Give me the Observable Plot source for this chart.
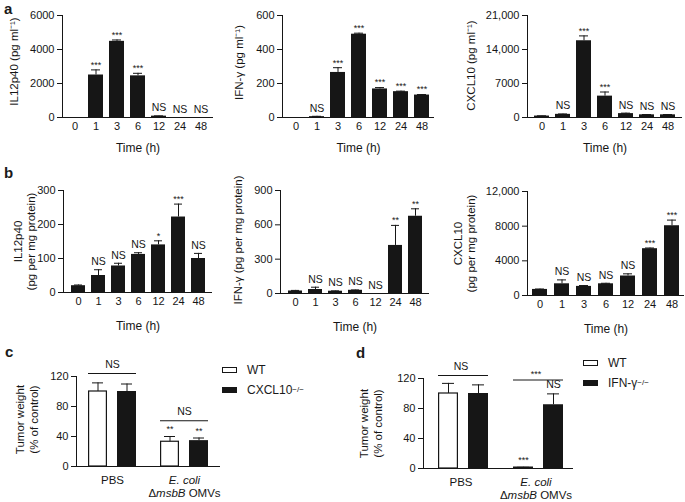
<!DOCTYPE html>
<html><head><meta charset="utf-8">
<script src="https://cdn.jsdelivr.net/npm/d3@7"></script>
<script src="https://cdn.jsdelivr.net/npm/@observablehq/plot@0.6"></script>
<style>
body{margin:0;background:#fff;font-family:"Liberation Sans",Arial,Helvetica,sans-serif;color:#1a1a1a;}
#wrap{position:relative;width:685px;height:502px;overflow:hidden;background:#fff;}
.letter{position:absolute;font-weight:bold;font-size:15px;line-height:15px;}
.legend{position:absolute;font-size:12px;line-height:20px;}
.legend .row{display:flex;align-items:center;height:20px;}
.legend .sw{display:inline-block;width:15px;height:6px;box-sizing:border-box;margin-right:10px;}
.legend sup{font-size:8px;vertical-align:5px;}
</style></head><body><div id="wrap"></div>
<script>
const FONT = '"Liberation Sans", Arial, Helvetica, sans-serif';
const INK = "#161616";

// ---------- data ----------
const times = ["0","1","3","6","12","24","48"];

// a: serum (pg/ml)
const il12Serum     = [0, 2500, 4480, 2450, 80, 0, 0];
const il12SerumErr  = [0, 300, 80, 150, 15, 0, 0];
const il12SerumSig  = ["", "***", "***", "***", "NS", "NS", "NS"];

const ifnSerum      = [0, 5, 265, 490, 168, 152, 132];
const ifnSerumErr   = [0, 2, 28, 6, 8, 3, 3];
const ifnSerumSig   = ["", "NS", "***", "***", "***", "***", "***"];

const cxclSerum     = [300, 650, 15800, 4400, 800, 550, 550];
const cxclSerumErr  = [50, 80, 1000, 850, 100, 60, 60];
const cxclSerumSig  = ["", "NS", "***", "***", "NS", "NS", "NS"];

// b: tumor tissue (pg per mg protein)
const il12Tissue    = [20, 50, 78, 112, 140, 222, 100];
const il12TissueErr = [2, 17, 8, 5, 12, 38, 15];
const il12TissueSig = ["", "NS", "NS", "NS", "*", "***", "NS"];

const ifnTissue     = [22, 35, 20, 28, 0, 420, 675];
const ifnTissueErr  = [5, 20, 3, 3, 0, 175, 65];
const ifnTissueSig  = ["", "NS", "NS", "NS", "NS", "**", "**"];

const cxclTissue    = [700, 1350, 1050, 1350, 2250, 5400, 8050];
const cxclTissueErr = [50, 450, 100, 60, 250, 80, 650];
const cxclTissueSig = ["", "NS", "NS", "NS", "NS", "***", "***"];

// c, d: tumor weight (% of control)
const groups = ["PBS", "Ecoli"];
const groupLabels = ["PBS", "E. coli\nΔmsbB OMVs"];

const cWT = [100, 33], cWTErr = [11.5, 7], cWTSig = ["", "**"];
const cKO = [100, 34.5], cKOErr = [10, 3.5], cKOSig = ["", "**"];
const cBracketY = [124, 61], cBracketSig = ["NS", "NS"];

const dWT = [100, 1.2], dWTErr = [13.5, 0.4], dWTSig = ["", "***"];
const dKO = [100, 85], dKOErr = [11.5, 14.5], dKOSig = ["", "NS"];
const dBracketY = [124, 118], dBracketSig = ["NS", "***"];

// ---------- helpers ----------
const wrap = document.getElementById("wrap");
const fmtTick = d => d >= 10000 ? d3.format(",")(d) : String(d);
function place(el, left, top) {
  el.style.position = "absolute";
  el.style.left = left + "px";
  el.style.top = top + "px";
  wrap.appendChild(el);
}
const baseStyle = {background: "transparent", fontFamily: FONT, fontSize: "11px", color: INK, overflow: "visible"};

function timePanel(c) {
  const rows = times.map((t, i) => ({t, v: c.values[i], e: c.errs[i], s: c.sigs[i], top: c.values[i] + c.errs[i]}));
  const withErr = rows.filter(d => d.e > 0);
  const plot = Plot.plot({
    width: c.w, height: c.h,
    marginLeft: c.ml, marginRight: c.mr, marginTop: c.mt, marginBottom: c.mb,
    style: baseStyle,
    x: {domain: times, paddingInner: 0.3, paddingOuter: 0.2},
    y: {domain: [0, c.yMax]},
    marks: [
      Plot.barY(rows, {x: "t", y: "v", fill: INK}),
      Plot.ruleX(withErr, {x: "t", y1: "v", y2: "top", stroke: INK}),
      Plot.tickY(withErr, {x: "t", y: "top", stroke: INK, insetLeft: 3, insetRight: 3}),
      Plot.text(rows.filter(d => d.s === "NS"), {x: "t", y: "top", text: "s", dy: -8, fontSize: 10.5}),
      Plot.text(rows.filter(d => d.s.includes("*")), {x: "t", y: "top", text: "s", dy: -5, fontSize: 9}),
      Plot.ruleY([0], {stroke: INK}),
      Plot.frame({anchor: "left", stroke: INK}),
      Plot.axisY({ticks: c.yTicks, tickSize: 5, tickPadding: 3, tickFormat: fmtTick, label: null}),
      Plot.axisX({tickSize: 0, tickPadding: 5, label: null}),
      Plot.text([c.yLabel], {frameAnchor: "left", text: d => d, rotate: -90, textAnchor: "middle", lineAnchor: "middle", dx: c.ylx, dy: c.yly, fontSize: 11.5, lineHeight: 1.1}),
      Plot.text(["Time (h)"], {frameAnchor: "bottom", text: d => d, textAnchor: "middle", lineAnchor: "middle", dy: c.tly, fontSize: 12})
    ]
  });
  place(plot, c.left, c.top);
}

function tumorPanel(c) {
  const bars = [];
  groups.forEach((g, i) => {
    bars.push({g, k: "WT", v: c.wt[i], e: c.wtErr[i], s: c.wtSig[i]});
    bars.push({g, k: "KO", v: c.ko[i], e: c.koErr[i], s: c.koSig[i]});
  });
  bars.forEach(d => d.top = d.v + d.e);
  const brackets = groups.map((g, i) => ({g, y: c.bracketY[i], s: c.bracketSig[i], x1: "WT", x2: "KO"}));
  const plot = Plot.plot({
    width: c.w, height: c.h,
    marginLeft: c.ml, marginRight: c.mr, marginTop: c.mt, marginBottom: c.mb,
    style: baseStyle,
    fx: {domain: groups, padding: 0},
    x: {domain: ["WT", "KO"], paddingInner: 0.33, paddingOuter: 0.4, align: c.align, axis: null},
    y: {domain: [0, 120]},
    marks: [
      Plot.barY(bars.filter(d => d.k === "WT"), {fx: "g", x: "k", y: "v", fill: "white", stroke: INK, strokeWidth: 1.2, insetLeft: 0.6, insetRight: 0.6}),
      Plot.barY(bars.filter(d => d.k === "KO"), {fx: "g", x: "k", y: "v", fill: INK}),
      Plot.ruleX(bars, {fx: "g", x: "k", y1: "v", y2: "top", stroke: INK}),
      Plot.tickY(bars, {fx: "g", x: "k", y: "top", stroke: INK, insetLeft: 4, insetRight: 4}),
      Plot.text(bars.filter(d => d.s === "NS"), {fx: "g", x: "k", y: "top", text: "s", dy: -9, fontSize: 10.5}),
      Plot.text(bars.filter(d => d.s.includes("*")), {fx: "g", x: "k", y: "top", text: "s", dy: -7, fontSize: 9}),
      Plot.ruleY(brackets, {fx: "g", y: "y", x1: "x1", x2: "x2", stroke: INK}),
      Plot.text(brackets.filter(d => d.s === "NS"), {fx: "g", y: "y", text: "s", dy: -9, fontSize: 10.5}),
      Plot.text(brackets.filter(d => d.s.includes("*")), {fx: "g", y: "y", text: "s", dy: -6, fontSize: 9}),
      Plot.ruleY([0], {stroke: INK}),
      Plot.frame({anchor: "left", stroke: INK, facetAnchor: "left"}),
      Plot.axisY({ticks: [0, 40, 80, 120], tickSize: 5, tickPadding: 3, label: null}),
      Plot.axisFx({anchor: "bottom", tickSize: 0, tickPadding: 8, label: null, fontSize: 11.5, lineHeight: 1.12, tickFormat: g => groupLabels[groups.indexOf(g)]}),
      Plot.text(["Tumor weight\n(% of control)"], {frameAnchor: "left", facetAnchor: "left", text: d => d, rotate: -90, textAnchor: "middle", lineAnchor: "middle", dx: c.ylx, dy: c.yly, fontSize: 11.5, lineHeight: 1.2})
    ]
  });
  // italic species / gene names
  d3.select(plot).selectAll("tspan").each(function() {
    const t = this.textContent;
    if (t === "E. coli") this.setAttribute("font-style", "italic");
    else if (t === "ΔmsbB OMVs") {
      this.textContent = "";
      const s = d3.select(this);
      s.append("tspan").text("Δ");
      s.append("tspan").attr("font-style", "italic").text("msbB");
      s.append("tspan").text(" OMVs");
    }
  });
  place(plot, c.left, c.top);
}

function legend(left, top, koLabel) {
  const el = document.createElement("div");
  el.className = "legend";
  el.innerHTML =
    `<div class="row"><span class="sw" style="background:#fff;border:1.2px solid ${INK}"></span>WT</div>` +
    `<div class="row"><span class="sw" style="background:${INK}"></span>${koLabel}<sup>−/−</sup></div>`;
  el.style.left = left + "px"; el.style.top = top + "px";
  wrap.appendChild(el);
}
function letter(ch, left, top) {
  const el = document.createElement("div");
  el.className = "letter"; el.textContent = ch;
  el.style.left = left + "px"; el.style.top = top + "px";
  wrap.appendChild(el);
}

// ---------- row a ----------
timePanel({left: 0, top: 0, w: 225, h: 165, ml: 62, mr: 12, mt: 15, mb: 48,
  values: il12Serum, errs: il12SerumErr, sigs: il12SerumSig, yMax: 6000, yTicks: [0, 2000, 4000, 6000],
  yLabel: "IL12p40 (pg ml⁻¹)", ylx: -49, yly: -5, tly: 31});
timePanel({left: 225, top: 0, w: 230, h: 165, ml: 57, mr: 21, mt: 15, mb: 48,
  values: ifnSerum, errs: ifnSerumErr, sigs: ifnSerumSig, yMax: 600, yTicks: [0, 200, 400, 600],
  yLabel: "IFN-γ (pg ml⁻¹)", ylx: -44, yly: -4, tly: 31});
timePanel({left: 455, top: 0, w: 230, h: 165, ml: 72, mr: 3, mt: 15, mb: 48,
  values: cxclSerum, errs: cxclSerumErr, sigs: cxclSerumSig, yMax: 21000, yTicks: [0, 7000, 14000, 21000],
  yLabel: "CXCL10 (pg ml⁻¹)", ylx: -57, yly: -1, tly: 31});

// ---------- row b ----------
timePanel({left: 0, top: 165, w: 225, h: 175, ml: 63, mr: 13, mt: 25, mb: 48,
  values: il12Tissue, errs: il12TissueErr, sigs: il12TissueSig, yMax: 300, yTicks: [0, 100, 200, 300],
  yLabel: "IL12p40\n(pg per mg protein)", ylx: -39, yly: 0, tly: 34});
timePanel({left: 225, top: 165, w: 230, h: 175, ml: 55, mr: 26, mt: 25, mb: 47,
  values: ifnTissue, errs: ifnTissueErr, sigs: ifnTissueSig, yMax: 900, yTicks: [0, 300, 600, 900],
  yLabel: "IFN-γ (pg per mg protein)", ylx: -43, yly: -2, tly: 34});
timePanel({left: 455, top: 165, w: 230, h: 175, ml: 72, mr: 1, mt: 26, mb: 45,
  values: cxclTissue, errs: cxclTissueErr, sigs: cxclTissueSig, yMax: 12000, yTicks: [0, 4000, 8000, 12000],
  yLabel: "CXCL10\n(pg per mg protein)", ylx: -63, yly: 0, tly: 34});

// ---------- row c/d ----------
tumorPanel({left: 0, top: 330, w: 230, h: 172, ml: 75, mr: 10, mt: 46, mb: 36, align: 0.5,
  wt: cWT, wtErr: cWTErr, wtSig: cWTSig, ko: cKO, koErr: cKOErr, koSig: cKOSig,
  bracketY: cBracketY, bracketSig: cBracketSig, ylx: -50, yly: -2});
tumorPanel({left: 340, top: 330, w: 240, h: 172, ml: 83, mr: 7, mt: 48, mb: 34, align: 0.62,
  wt: dWT, wtErr: dWTErr, wtSig: dWTSig, ko: dKO, koErr: dKOErr, koSig: dKOSig,
  bracketY: dBracketY, bracketSig: dBracketSig, ylx: -53, yly: 0});

legend(222, 360, "CXCL10");
legend(583, 353, "IFN-γ");

letter("a", 4, 1);
letter("b", 4, 165);
letter("c", 5, 344);
letter("d", 356, 345);
</script></body></html>
